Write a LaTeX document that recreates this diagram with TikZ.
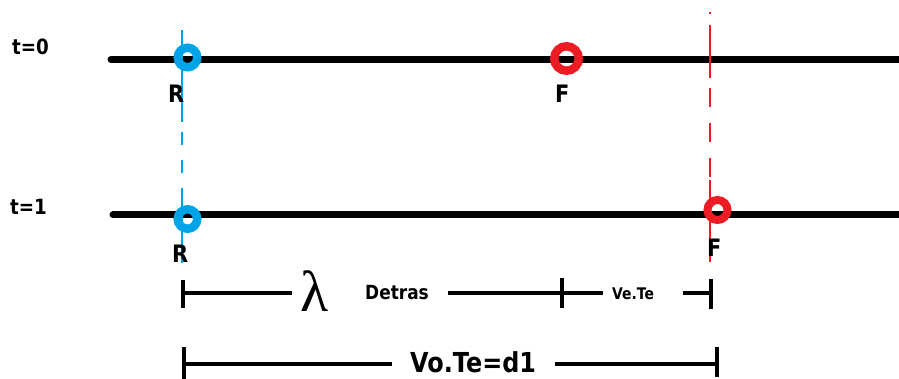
\documentclass[tikz,border=0pt]{standalone}
\usepackage{fontspec}
\newfontfamily\lblfont[FakeStretch=0.87]{DejaVu Sans}
\newfontfamily\greekfont{Liberation Serif}
\definecolor{rblue}{RGB}{0,162,232}
\definecolor{rred}{RGB}{237,28,36}
\begin{document}
\begin{tikzpicture}[x=1pt,y=-1pt,
  track/.style={line width=7pt,line cap=round},
  guide/.style={line width=1.5pt},
  dimline/.style={line width=4.5pt},
  ticks/.style={line width=4.5pt},
  ring/.style={circle,draw,inner sep=0pt,line width=8.5pt},
  lbl/.style={inner sep=0pt,anchor=base west,
    font=\lblfont\bfseries\fontsize{#1}{#1}\selectfont},
]
\useasboundingbox (0,0) rectangle (899,379);

% time labels
\node[lbl=21] (t0) at (12,55) {t=0};
\node[lbl=21] (t1) at (10,215) {t=1};

% tracks
\coordinate (a0) at (111,59.5);
\coordinate (b0) at (905,59.5);
\coordinate (a1) at (113,215);
\coordinate (b1) at (905,215);
\draw[track] (a0) -- (b0);
\draw[track] (a1) -- (b1);

% blue guide through R
\coordinate (bl0) at (182,30);
\coordinate (bl1) at (182,122);
\coordinate (bl2) at (182,132);
\coordinate (bl3) at (182,188);
\coordinate (bl4) at (182,263);
\draw[guide,rblue] (bl0) -- (bl1);
\draw[guide,rblue,dash pattern=on 13pt off 15pt] (bl2) -- (bl3);
\draw[guide,rblue] (bl3) -- (bl4);

% red guide through F
\coordinate (rd0) at (710,12.5);
\coordinate (rd1) at (710,14.5);
\coordinate (rd2) at (710,25);
\coordinate (rd3) at (710,78);
\coordinate (rd4) at (710,88);
\coordinate (rd5) at (710,180);
\coordinate (rd6) at (710,262);
\draw[guide,rred] (rd0) -- (rd1);
\draw[guide,rred] (rd2) -- (rd3);
\draw[guide,rred,dash pattern=on 19pt off 16pt] (rd4) -- (rd5);
\draw[guide,rred] (rd5) -- (rd6);

% positions of R and F
\node[ring,rblue,minimum size=19.5pt] (R0) at (187.5,57.5) {};
\node[ring,rred,minimum size=24.5pt] (F0) at (566.5,58.5) {};
\node[ring,rblue,minimum size=19.5pt] (R1) at (187.5,219) {};
\node[ring,rred,minimum size=20pt,line width=8pt] (F1) at (717.5,210) {};

\node[lbl=24] (R0l) at (168,103) {R};
\node[lbl=24] (F0l) at (555,103) {F};
\node[lbl=24] (R1l) at (172,262) {R};
\node[lbl=24] (F1l) at (707,257) {F};

% first dimension line
\coordinate (p1) at (183,293);
\coordinate (p2) at (292,293);
\coordinate (p3) at (448,293);
\coordinate (p4) at (562,293);
\coordinate (p5) at (603,293);
\coordinate (p6) at (683,293);
\coordinate (p7) at (711,293);
\node[inner sep=0pt,anchor=base west,font=\greekfont\fontsize{58}{58}\selectfont] (lam) at (300,311) {λ};
\node[lbl=19.5] (det) at (365,299) {Detras};
\node[lbl=16] (vete) at (612,299) {Ve.Te};
\draw[dimline] (p1) -- (p2);
\draw[dimline] (p3) -- (p4) -- (p5);
\draw[dimline] (p6) -- (p7);
\draw[ticks] ([yshift=-15pt]p1) -- ([yshift=13pt]p1);
\draw[ticks] ([yshift=-15pt]p4) -- ([yshift=15pt]p4);
\draw[ticks] ([yshift=-16pt]p7) -- ([yshift=14pt]p7);

% second dimension line
\coordinate (q1) at (184,364);
\coordinate (q2) at (392,364);
\coordinate (q3) at (555,364);
\coordinate (q4) at (717,364);
\node[lbl=27.5] (vote) at (410,372) {Vo.Te=d1};
\draw[dimline] (q1) -- (q2);
\draw[dimline] (q3) -- (q4);
\draw[ticks] ([yshift=-17pt]q1) -- ([yshift=17pt]q1);
\draw[ticks] ([yshift=-13pt]q4) -- ([yshift=17pt]q4);
\end{tikzpicture}
\end{document}
